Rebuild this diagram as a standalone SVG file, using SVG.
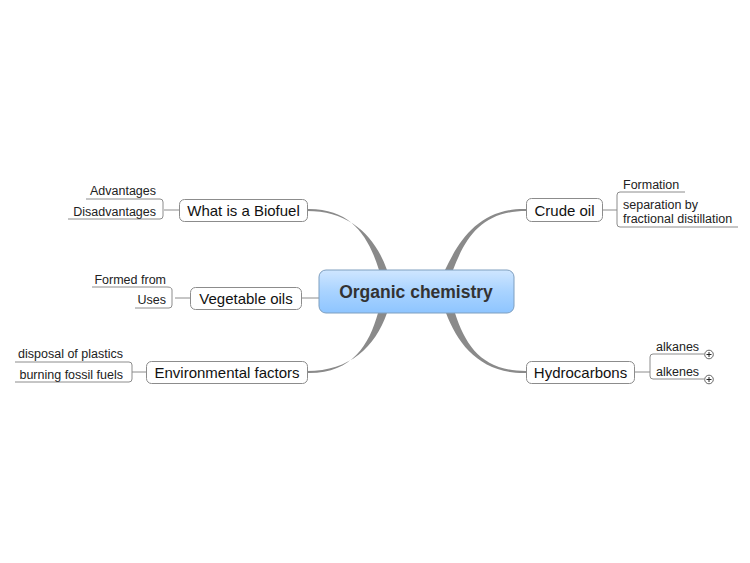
<svg xmlns="http://www.w3.org/2000/svg" width="750" height="563" viewBox="0 0 750 563">
<defs>
<linearGradient id="cg" x1="0" y1="0" x2="0" y2="1">
<stop offset="0" stop-color="#cfe6ff"/>
<stop offset="0.5" stop-color="#a9d3ff"/>
<stop offset="1" stop-color="#8ec5ff"/>
</linearGradient>
<style>
.node{fill:#fff;stroke:#8c8c8c;stroke-width:1}
.nt{font-family:"Liberation Sans",Arial,sans-serif;font-size:15px;fill:#111;text-anchor:middle}
.st{font-family:"Liberation Sans",Arial,sans-serif;font-size:12.5px;fill:#222}
.ul{fill:none;stroke:#8c8c8c;stroke-width:1}
.br{fill:#8a8a8a}
</style>
</defs>
<rect width="750" height="563" fill="#fff"/>
<g id="connectors">
<path class="br" d="M307,209 C352,208 369,238 379,270 L387,270 C375,236 350,211 307,211 Z"/>
<path class="br" d="M526,209 C481,208 460,238 445,270 L453,270 C466,236 483,211 526,211 Z"/>
<path class="br" d="M307,373 C352,374 369,345 378,313 L387,313 C375,347 350,371 307,371 Z"/>
<path class="br" d="M526,373 C481,374 458,345 446,313 L455,313 C466,347 483,371 526,371 Z"/>
<path class="ul" d="M301,298 H319"/>
<path class="ul" d="M179,210 H164 M160,199 Q163,199 163,202 V216 Q163,219 160,219"/>
<path class="ul" d="M190,298 H175 M167,287 Q172,287 172,290 V305 Q172,308 169,308"/>
<path class="ul" d="M146,372 H132 M129,362 Q132,362 132,365 V379 Q132,382 129,382"/>
<path class="ul" d="M602,210 H617 M620,192 Q617,192 617,195 V224 Q617,227 620,227"/>
<path class="ul" d="M634,372 H650 M653,354 Q650,354 650,357 V376 Q650,379 653,379"/>
</g>
<g id="center">
<rect x="319" y="270" width="195" height="43" rx="7" fill="url(#cg)" stroke="#7f9fbf" stroke-width="1"/>
<text x="416" y="298" font-family="'Liberation Sans',Arial,sans-serif" font-size="17.5" font-weight="bold" fill="#333" text-anchor="middle">Organic chemistry</text>
</g>
<g id="biofuel">
<rect class="node" x="179.5" y="199.5" width="128" height="22" rx="5"/>
<text class="nt" x="243.5" y="216">What is a Biofuel</text>
</g>
<g id="advantages">
<path class="ul" d="M86,199 H160"/>
<text class="st" x="156" y="195" text-anchor="end">Advantages</text>
</g>
<g id="disadvantages">
<path class="ul" d="M68,219 H160"/>
<text class="st" x="156" y="215.5" text-anchor="end">Disadvantages</text>
</g>
<g id="vegoils">
<rect class="node" x="190.5" y="287.5" width="111" height="22" rx="5"/>
<text class="nt" x="246" y="304">Vegetable oils</text>
</g>
<g id="formedfrom">
<path class="ul" d="M92,287 H167"/>
<text class="st" x="166" y="283.5" text-anchor="end">Formed from</text>
</g>
<g id="uses">
<path class="ul" d="M135,308 H169"/>
<text class="st" x="166" y="304" text-anchor="end">Uses</text>
</g>
<g id="environmental">
<rect class="node" x="146.5" y="361.5" width="161" height="22" rx="5"/>
<text class="nt" x="227" y="378">Environmental factors</text>
</g>
<g id="plastics">
<path class="ul" d="M15,362 H129"/>
<text class="st" x="123" y="358" text-anchor="end">disposal of plastics</text>
</g>
<g id="fossil">
<path class="ul" d="M15,382 H129"/>
<text class="st" x="123" y="378.5" text-anchor="end">burning fossil fuels</text>
</g>
<g id="crudeoil">
<rect class="node" x="526.5" y="198.5" width="76" height="23" rx="5"/>
<text class="nt" x="564.5" y="215.5">Crude oil</text>
</g>
<g id="formation">
<path class="ul" d="M620,192 H685"/>
<text class="st" x="623" y="188.5">Formation</text>
</g>
<g id="separation">
<path class="ul" d="M620,227 H738"/>
<text class="st" x="623" y="209">separation by</text>
<text class="st" x="623" y="222.5">fractional distillation</text>
</g>
<g id="hydrocarbons">
<rect class="node" x="526.5" y="361.5" width="108" height="22" rx="5"/>
<text class="nt" x="580.5" y="378">Hydrocarbons</text>
</g>
<g id="alkanes">
<path class="ul" d="M653,354 H704"/>
<text class="st" x="656" y="350.5">alkanes</text>
<circle cx="709" cy="354.5" r="4.3" fill="#fff" stroke="#555" stroke-width="0.9"/>
<path d="M706.5,354.5 H711.5 M709,352 V357" stroke="#222" stroke-width="1"/>
</g>
<g id="alkenes">
<path class="ul" d="M653,379 H704"/>
<text class="st" x="656" y="375.5">alkenes</text>
<circle cx="709" cy="379.5" r="4.3" fill="#fff" stroke="#555" stroke-width="0.9"/>
<path d="M706.5,379.5 H711.5 M709,377 V382" stroke="#222" stroke-width="1"/>
</g>
</svg>
